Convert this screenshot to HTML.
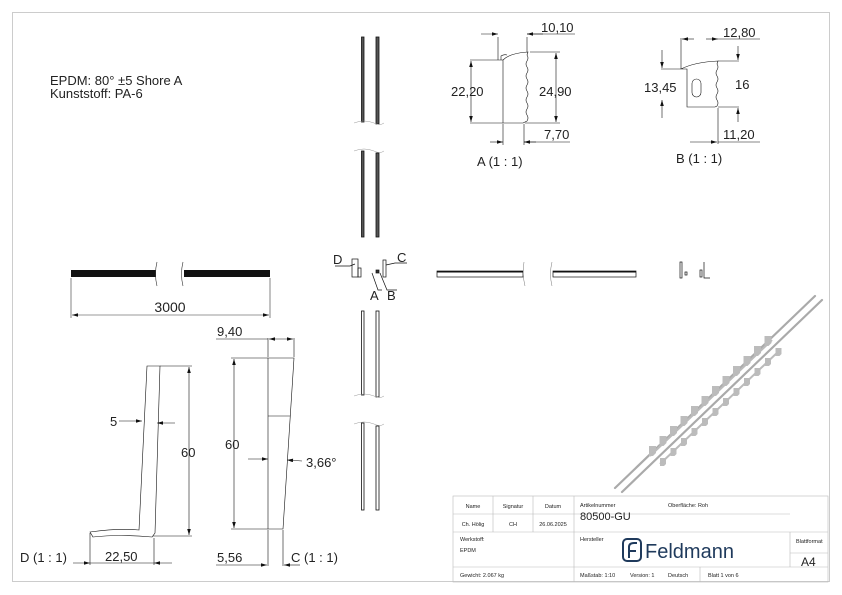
<!DOCTYPE html>
<html><head><meta charset="utf-8"><style>
html,body{margin:0;padding:0;background:#fff;width:842px;height:595px;overflow:hidden}
svg{display:block}
text{font-family:"Liberation Sans",sans-serif;fill:#222}
</style></head><body>
<svg width="842" height="595" viewBox="0 0 842 595" xmlns="http://www.w3.org/2000/svg">
<defs>
<marker id="a" viewBox="0 0 10 6" refX="10" refY="3" markerWidth="14" markerHeight="6" orient="auto-start-reverse"><path d="M0,0L10,3L0,6z" fill="#111"/></marker>
</defs>
<rect x="12.5" y="12.5" width="817" height="569" fill="none" stroke="#ccc"/>
<text x="50" y="85" font-size="13">EPDM: 80° ±5 Shore A</text>
<text x="50" y="98" font-size="13">Kunststoff: PA-6</text>

<!-- horizontal bar 3000 -->
<rect x="71" y="270" width="85" height="7" fill="#111"/>
<rect x="184" y="270" width="86" height="7" fill="#111"/>
<g stroke="#333" stroke-width="0.6" fill="none">
<path d="M157,262 q-3,12 0,24 M183,262 q-3,12 0,24"/>
<line x1="71" y1="278" x2="71" y2="318"/><line x1="270" y1="278" x2="270" y2="318"/>
<line x1="72" y1="315" x2="269" y2="315" marker-start="url(#a)" marker-end="url(#a)"/>
</g>
<text x="170" y="312" font-size="14" text-anchor="middle">3000</text>

<!-- vertical rails -->
<g stroke="#111" stroke-width="0.8" fill="none">
<rect x="361.5" y="37" width="2.5" height="85" fill="#555"/>
<rect x="376" y="37" width="3" height="87" fill="#555"/>
<rect x="361.5" y="151" width="2.5" height="86" fill="#555"/>
<rect x="376" y="153" width="3" height="84" fill="#555"/>
<rect x="361.5" y="311" width="2.5" height="84"/>
<rect x="376" y="311" width="3" height="86"/>
<rect x="361.5" y="423" width="2.5" height="87"/>
<rect x="376" y="426" width="3" height="84"/>
</g>
<g stroke="#999" stroke-width="0.5" fill="none">
<path d="M354,123 q10,-4 20,0 q6,3 10,0 M354,151 q10,-4 20,0 q6,3 10,0 M354,396 q10,-4 20,0 q6,3 10,0 M354,424 q10,-4 20,0 q6,3 10,0"/>
</g>

<!-- small end views D A B C -->
<g stroke="#111" stroke-width="0.7" fill="none">
<rect x="352" y="259" width="6" height="18"/><rect x="358" y="268" width="3" height="9"/>
<rect x="376" y="270" width="3" height="3" fill="#333"/>
<rect x="383" y="260" width="3" height="17"/>
<path d="M335,266 H350 L355,264 M372,273 L378,290 H382 M380,273 L387,290 H397 M386,265 L395,263 H407"/>
</g>
<text x="333" y="264" font-size="13">D</text>
<text x="370" y="300" font-size="13">A</text>
<text x="387" y="300" font-size="13">B</text>
<text x="397" y="262" font-size="13">C</text>

<!-- horizontal rail middle -->
<g stroke="#111" stroke-width="0.7" fill="none">
<rect x="437" y="271" width="86" height="6"/><rect x="553" y="271" width="83" height="6"/>
<path d="M524,262 q-2,12 1,24 M552,262 q-3,12 0,24" stroke="#777" stroke-width="0.5"/>
<rect x="680" y="262" width="2" height="16"/><rect x="685" y="272" width="2" height="3"/>
<rect x="700" y="270" width="2" height="7"/><path d="M704,262 V278 H710"/>
</g>
<rect x="437" y="271" width="86" height="1.5" fill="#111"/><rect x="553" y="271" width="83" height="1.5" fill="#111"/>

<!-- Detail A -->
<g stroke="#111" stroke-width="0.6" fill="none">
<path d="M503,60 Q510,53 528,52 L527,55 q2,3 0,6 q-2,3 0,6 q2,3 0,6 q-2,3 0,6 q2,3 0,6 q-2,3 0,6 q2,3 0,6 q-2,3 0,6 q2,3 0,6 q-2,3 0,6 q2,3 0,6 L523,123 H503 V60 Z"/>
<path d="M498,60 h5 M501,60 v-4 q3,-2 6,-1"/>
<line x1="498" y1="37" x2="498" y2="60"/><line x1="527" y1="37" x2="527" y2="52"/>
<line x1="481" y1="34" x2="498" y2="34" marker-end="url(#a)"/><line x1="543" y1="34" x2="527" y2="34" marker-end="url(#a)"/><line x1="527" y1="34" x2="575" y2="34"/>
<line x1="470" y1="60" x2="498" y2="60"/><line x1="470" y1="123" x2="503" y2="123"/>
<line x1="471" y1="61" x2="471" y2="122" marker-start="url(#a)" marker-end="url(#a)"/>
<line x1="530" y1="52" x2="560" y2="52"/><line x1="525" y1="123" x2="560" y2="123"/>
<line x1="556" y1="53" x2="556" y2="122" marker-start="url(#a)" marker-end="url(#a)"/>
<line x1="503" y1="124" x2="503" y2="145"/><line x1="524" y1="124" x2="524" y2="145"/>
<line x1="490" y1="142" x2="503" y2="142" marker-end="url(#a)"/><line x1="536" y1="142" x2="524" y2="142" marker-end="url(#a)"/><line x1="524" y1="142" x2="570" y2="142"/>
</g>
<text x="541" y="32" font-size="13">10,10</text>
<text x="451" y="96" font-size="13">22,20</text>
<text x="539" y="96" font-size="13">24,90</text>
<text x="544" y="139" font-size="13">7,70</text>
<text x="477" y="166" font-size="13">A (1 : 1)</text>

<!-- Detail B -->
<g stroke="#111" stroke-width="0.6" fill="none">
<path d="M681,69 Q695,62 718,61 L717,64 q2,3 0,6 q-2,3 0,6 q2,3 0,6 q-2,3 0,6 q2,3 0,6 q-2,3 0,6 q2,3 0,6 L715,107 H687 V69 Z"/>
<rect x="692" y="79" width="9" height="18" rx="4.5"/>
<line x1="681" y1="38" x2="681" y2="69"/>
<line x1="682" y1="39" x2="694" y2="39" marker-start="url(#a)"/><line x1="706" y1="39" x2="718" y2="39" marker-end="url(#a)"/><line x1="718" y1="39" x2="760" y2="39"/>
<line x1="718" y1="61" x2="739" y2="61"/><line x1="718" y1="107" x2="739" y2="107"/>
<line x1="738" y1="46" x2="738" y2="60" marker-end="url(#a)"/><line x1="738" y1="122" x2="738" y2="108" marker-end="url(#a)"/>
<line x1="661" y1="69" x2="681" y2="69"/>
<line x1="662" y1="50" x2="662" y2="68" marker-end="url(#a)"/><line x1="662" y1="118" x2="662" y2="100" marker-end="url(#a)"/>
<line x1="718" y1="108" x2="718" y2="144"/>
<line x1="690" y1="142" x2="717" y2="142" marker-end="url(#a)"/><line x1="718" y1="142" x2="760" y2="142"/>
</g>
<text x="723" y="37" font-size="13">12,80</text>
<text x="644" y="92" font-size="13">13,45</text>
<text x="735" y="89" font-size="13">16</text>
<text x="723" y="139" font-size="13">11,20</text>
<text x="676" y="163" font-size="13">B (1 : 1)</text>

<!-- Detail D -->
<g stroke="#111" stroke-width="0.6" fill="none">
<path d="M147,366 H160 L155,533 L152,537 Q120,534 93,537 L90,532 Q120,528 139,530 L147,366 Z"/>
<line x1="160" y1="366" x2="192" y2="366"/><line x1="153" y1="536" x2="192" y2="536"/>
<line x1="189" y1="367" x2="189" y2="535" marker-start="url(#a)" marker-end="url(#a)"/>
<line x1="119" y1="421" x2="142" y2="421" marker-end="url(#a)"/>
<line x1="175" y1="423" x2="157" y2="423" marker-end="url(#a)"/>
<line x1="90" y1="533" x2="90" y2="565"/><line x1="154" y1="538" x2="154" y2="565"/>
<line x1="73" y1="563" x2="90" y2="563" marker-end="url(#a)"/><line x1="90" y1="563" x2="154" y2="563"/><line x1="172" y1="563" x2="154" y2="563" marker-end="url(#a)"/>
</g>
<text x="110" y="426" font-size="13">5</text>
<text x="181" y="457" font-size="13">60</text>
<text x="20" y="562" font-size="13">D (1 : 1)</text>
<text x="105" y="561" font-size="13">22,50</text>

<!-- Detail C -->
<g stroke="#111" stroke-width="0.6" fill="none">
<path d="M268,358 H294 L283,529 H268 Z"/>
<line x1="268" y1="416" x2="290" y2="416"/>
<line x1="268" y1="338" x2="268" y2="357"/><line x1="294" y1="338" x2="294" y2="357"/>
<line x1="216" y1="339" x2="268" y2="339"/>
<line x1="269" y1="339" x2="293" y2="339" marker-start="url(#a)" marker-end="url(#a)"/>
<line x1="231" y1="358" x2="268" y2="358"/><line x1="231" y1="529" x2="268" y2="529"/>
<line x1="234" y1="359" x2="234" y2="528" marker-start="url(#a)" marker-end="url(#a)"/>
<line x1="248" y1="459" x2="268" y2="459" marker-end="url(#a)"/>
<line x1="302" y1="461" x2="287" y2="460" marker-end="url(#a)"/>
<line x1="268" y1="530" x2="268" y2="566"/><line x1="283" y1="530" x2="283" y2="566"/>
<line x1="216" y1="565" x2="267" y2="565" marker-end="url(#a)"/><line x1="300" y1="565" x2="284" y2="565" marker-end="url(#a)"/>
</g>
<text x="217" y="336" font-size="13">9,40</text>
<text x="225" y="449" font-size="13">60</text>
<text x="306" y="467" font-size="13">3,66°</text>
<text x="217" y="562" font-size="13">5,56</text>
<text x="291" y="562" font-size="13">C (1 : 1)</text>

<!-- isometric -->
<g stroke="#aaa" stroke-width="2.2" stroke-linecap="round">
<line x1="615" y1="488" x2="815" y2="296"/>
<line x1="622" y1="492" x2="822" y2="300"/>
</g>
<g fill="#bcbcbc">
<path d="M0,0 h7 v7 l-3,3 h-4 z" transform="translate(649,446)"/>
<path d="M0,0 h7 v7 l-3,3 h-4 z" transform="translate(659.5,436)"/>
<path d="M0,0 h7 v7 l-3,3 h-4 z" transform="translate(670,426)"/>
<path d="M0,0 h7 v7 l-3,3 h-4 z" transform="translate(680.5,416)"/>
<path d="M0,0 h7 v7 l-3,3 h-4 z" transform="translate(691,406)"/>
<path d="M0,0 h7 v7 l-3,3 h-4 z" transform="translate(701.5,396)"/>
<path d="M0,0 h7 v7 l-3,3 h-4 z" transform="translate(712,386)"/>
<path d="M0,0 h7 v7 l-3,3 h-4 z" transform="translate(722.5,376)"/>
<path d="M0,0 h7 v7 l-3,3 h-4 z" transform="translate(733,366)"/>
<path d="M0,0 h7 v7 l-3,3 h-4 z" transform="translate(743.5,356)"/>
<path d="M0,0 h7 v7 l-3,3 h-4 z" transform="translate(754,346)"/>
<path d="M0,0 h7 v7 l-3,3 h-4 z" transform="translate(764.5,336)"/>
<path d="M0,0 h6 v6 l-2,2 h-4 z" transform="translate(660,458)"/>
<path d="M0,0 h6 v6 l-2,2 h-4 z" transform="translate(670.5,448)"/>
<path d="M0,0 h6 v6 l-2,2 h-4 z" transform="translate(681,438)"/>
<path d="M0,0 h6 v6 l-2,2 h-4 z" transform="translate(691.5,428)"/>
<path d="M0,0 h6 v6 l-2,2 h-4 z" transform="translate(702,418)"/>
<path d="M0,0 h6 v6 l-2,2 h-4 z" transform="translate(712.5,408)"/>
<path d="M0,0 h6 v6 l-2,2 h-4 z" transform="translate(723,398)"/>
<path d="M0,0 h6 v6 l-2,2 h-4 z" transform="translate(733.5,388)"/>
<path d="M0,0 h6 v6 l-2,2 h-4 z" transform="translate(744,378)"/>
<path d="M0,0 h6 v6 l-2,2 h-4 z" transform="translate(754.5,368)"/>
<path d="M0,0 h6 v6 l-2,2 h-4 z" transform="translate(765,358)"/>
<path d="M0,0 h6 v6 l-2,2 h-4 z" transform="translate(775.5,348)"/>
</g>
<g stroke="#bbb" stroke-width="2">
<line x1="650" y1="456" x2="772" y2="340"/>
<line x1="660" y1="464" x2="780" y2="350"/>
</g>

<!-- title block -->
<g stroke="#bbb" stroke-width="0.6" fill="none">
<rect x="453" y="496" width="375" height="86"/>
<line x1="453" y1="514" x2="790" y2="514"/>
<line x1="453" y1="532" x2="828" y2="532"/>
<line x1="453" y1="567" x2="828" y2="567"/>
<line x1="493" y1="496" x2="493" y2="532"/>
<line x1="533" y1="496" x2="533" y2="532"/>
<line x1="574" y1="496" x2="574" y2="582"/>
<line x1="790" y1="532" x2="790" y2="567"/>
<line x1="790" y1="553" x2="828" y2="553"/>
<line x1="700" y1="567" x2="700" y2="582"/>
</g>
<g font-size="5.5">
<text x="473" y="508" text-anchor="middle">Name</text>
<text x="513" y="508" text-anchor="middle">Signatur</text>
<text x="553" y="508" text-anchor="middle">Datum</text>
<text x="473" y="526" text-anchor="middle">Ch. Hölig</text>
<text x="513" y="526" text-anchor="middle">CH</text>
<text x="553" y="526" text-anchor="middle">26.06.2025</text>
<text x="580" y="507">Artikelnummer</text>
<text x="668" y="507">Oberfläche:  Roh</text>
<text x="460" y="541">Werkstoff:</text>
<text x="460" y="552">EPDM</text>
<text x="580" y="541">Hersteller</text>
<text x="796" y="543">Blattformat</text>
<text x="460" y="577">Gewicht: 2.067 kg</text>
<text x="580" y="577">Maßstab: 1:10</text>
<text x="630" y="577">Version: 1</text>
<text x="668" y="577">Deutsch</text>
<text x="708" y="577">Blatt 1 von 6</text>
</g>
<text x="580" y="520" font-size="11">80500-GU</text>
<text x="801" y="566" font-size="12">A4</text>
<g stroke="#1f3a5c" stroke-width="2" fill="none">
<rect x="623" y="539" width="18" height="22" rx="4"/>
<path d="M629,558 V547 Q629,543 634,543 H637 M629,551 H636"/>
</g>
<text x="645" y="558" font-size="20" style="fill:#1f3a5c">Feldmann</text>
</svg>
</body></html>
